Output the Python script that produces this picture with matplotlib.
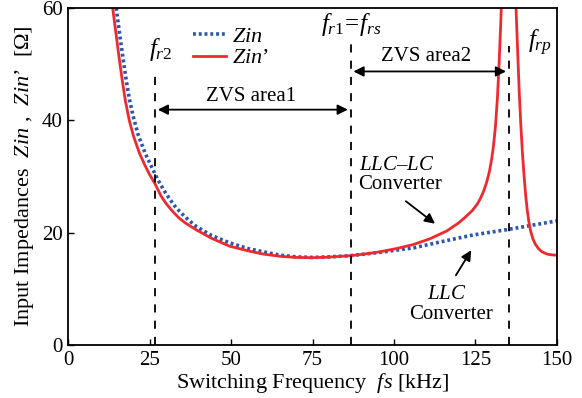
import numpy as np
import matplotlib.pyplot as plt

plt.rcParams['font.family'] = ['Liberation Serif', 'DejaVu Serif']
plt.rcParams['mathtext.fontset'] = 'custom'
plt.rcParams['mathtext.rm'] = 'Liberation Serif'
plt.rcParams['mathtext.it'] = 'Liberation Serif:italic'

# Zin (LLC converter)
f_llc = [14.7, 15.7, 16.8, 17.8, 18.8, 20, 21.5, 23.7, 25.5, 27.5, 29.5, 31.1, 33, 35,
         37, 39.3, 44, 49.5, 55, 59.8, 65, 70, 75, 80, 86.5, 95.7, 106, 116.2, 124.4,
         135.3, 150]
z_llc = [60, 55.5, 51, 47, 43.6, 40.5, 37.3, 34, 31.8, 29.4, 27.4, 26, 24.5, 23.3,
         22.2, 21.1, 19.5, 18.2, 17.2, 16.6, 16.0, 15.7, 15.6, 15.7, 15.9, 16.5, 17.3,
         18.6, 19.6, 20.6, 22.1]

# Zin' (LLC-LC converter)
f_llclc = [13.6, 14.5, 15.5, 16.5, 17.5, 18.7, 20, 21.8, 23.5, 25, 26.6, 28.5, 30, 32,
           34, 36, 39.3, 44, 49.5, 55, 59.8, 65, 70, 75, 80, 86.5, 91, 95.7, 101, 106,
           111, 116.2, 118, 120, 122, 124, 125.5, 126.5, 127.5, 128.5, 129.3, 130,
           130.6, 131.2, 131.8, 132.3, 132.8, 133.1, 133.8, 136.8, 137.4, 137.7, 138.1,
           138.5, 139, 139.5, 140, 140.5, 141, 141.5, 142, 142.7, 143.5, 144.5, 145.5,
           147, 148.5, 150]
z_llclc = [60, 56, 51.5, 47.3, 43.5, 40, 37.2, 34.2, 32, 30.3, 28.7, 26.5, 25.2, 23.8,
           22.6, 21.7, 20.5, 19, 17.6, 16.8, 16.2, 15.8, 15.6, 15.55, 15.65, 15.9, 16.2,
           16.6, 17.2, 17.9, 18.9, 20.3, 21, 21.8, 22.8, 23.9, 25, 26, 27.3, 29, 30.8, 33,
           35.5, 39, 44, 50, 57, 62, 75, 75, 62, 57, 51,
           45, 39, 34, 30, 26.5, 23.8, 21.8, 20.3, 18.9, 17.9, 17.1, 16.6,
           16.2, 16.05, 16.0]

f_marks = [26.6, 86.7, 135.3]        # fr2, fr1=frs, frp
mark_tops = [48.3, 53.9, 53.3]

fig = plt.figure(figsize=(5.82, 3.98), dpi=100)
ax = fig.add_axes([0.1175, 0.133, 0.839, 0.847])

blue = '#2b55b0'
red = '#ee2a2e'
ax.plot(f_llc, z_llc, color=blue, lw=2.6, ls=(0, (0.8, 0.8)), label='$Zin$')
ax.plot(f_llclc, z_llclc, color=red, lw=2.0, label='$Zin$’')

for fm, top in zip(f_marks, mark_tops):
    ax.plot([fm, fm], [0, top], color='black', lw=1.3, ls=(0, (4.5, 4.5)))

ax.set_xlim(0, 150)
ax.set_ylim(0, 60)
ax.set_xticks([0, 25, 50, 75, 100, 125, 150])
ax.set_yticks([0, 20, 40, 60])
ax.tick_params(direction='in', length=4, labelsize=15, width=1, pad=4)
for s in ax.spines.values():
    s.set_linewidth(1.3)

ax.set_xlabel('Switching Frequency  $fs$ [kHz]', fontsize=16, labelpad=1)
ax.set_ylabel('Input Impedances  $Zin$ ,  $Zin$’  [$\\Omega$]', fontsize=16, labelpad=4)

leg = ax.legend(loc='upper left', bbox_to_anchor=(0.215, 1.005), frameon=False,
                fontsize=16, handlelength=1.45, handletextpad=0.3, labelspacing=0.05)

# frequency labels
ax.text(28.3, 52.6, '$f_{\\mathit{r2}}$', fontsize=18, ha='center', va='center')
ax.text(86.8, 57.0, '$f_{\\mathit{r1}}\\!=\\!f_{\\mathit{rs}}$', fontsize=18, ha='center', va='center')
ax.text(144.8, 53.7, '$f_{\\mathit{rp}}$', fontsize=18, ha='center', va='center')

# ZVS areas
ax.text(56.2, 44.3, 'ZVS area1', fontsize=15, ha='center', va='center')
ax.annotate('', xy=(26.6, 41.9), xytext=(86.7, 41.9),
            arrowprops=dict(arrowstyle='<|-|>', color='black', lw=1.3, mutation_scale=15))
ax.text(110, 51.3, 'ZVS area2', fontsize=15, ha='center', va='center')
ax.annotate('', xy=(86.7, 48.7), xytext=(135.3, 48.7),
            arrowprops=dict(arrowstyle='<|-|>', color='black', lw=1.3, mutation_scale=15))

# converter labels
ax.text(100.8, 32.0, '$LLC$–$LC$', fontsize=15, ha='center', va='center')
ax.text(101.8, 28.6, 'Converter', fontsize=15, ha='center', va='center')
ax.annotate('', xy=(113.3, 21.3), xytext=(103, 25.9),
            arrowprops=dict(arrowstyle='-|>', color='black', lw=1.3, mutation_scale=15))
ax.text(116.2, 9.0, '$LLC$', fontsize=15, ha='center', va='center')
ax.text(117.5, 5.4, 'Converter', fontsize=15, ha='center', va='center')
ax.annotate('', xy=(124.2, 17.3), xytext=(118.6, 12.0),
            arrowprops=dict(arrowstyle='-|>', color='black', lw=1.3, mutation_scale=15))

fig.savefig('out.png', dpi=100)
